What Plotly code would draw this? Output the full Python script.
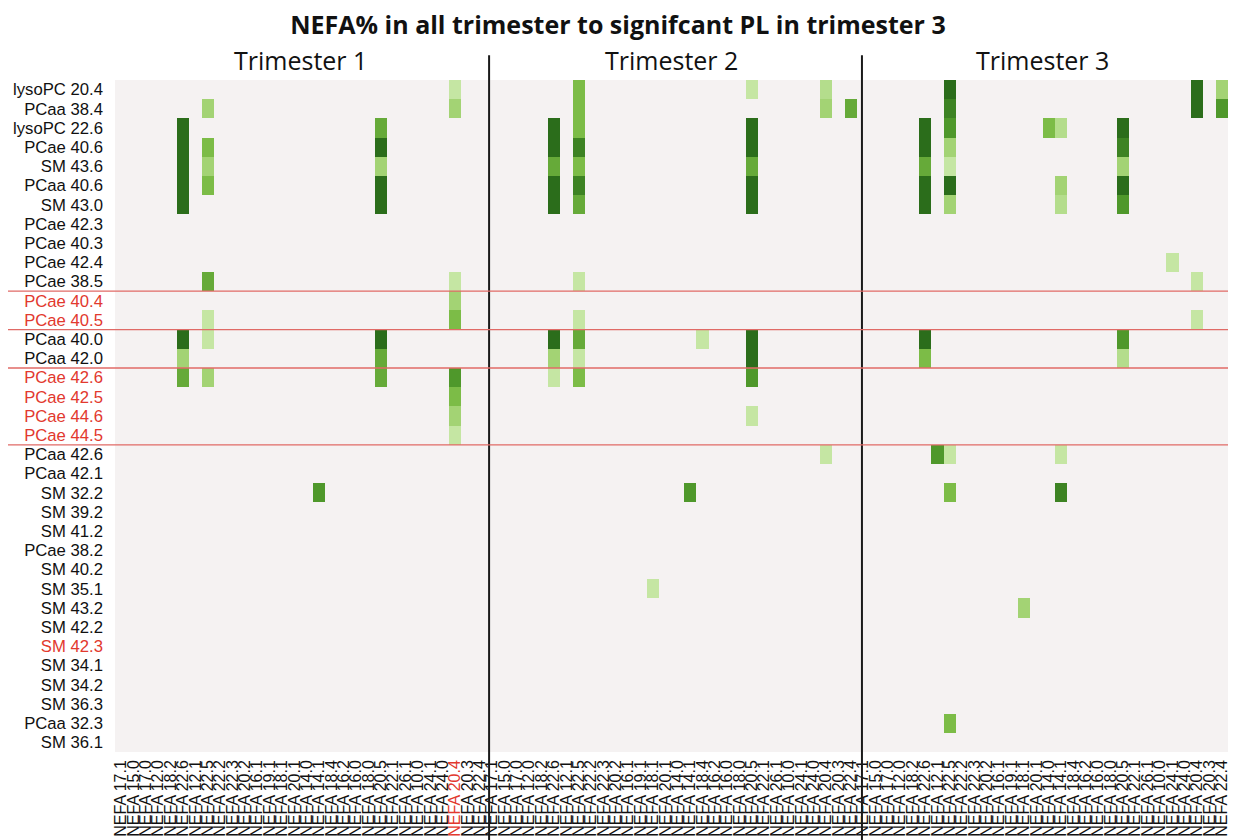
import numpy as np
import plotly.graph_objects as go

# ---------------- data ----------------
pl_labels = [
    "lysoPC 20.4", "PCaa 38.4", "lysoPC 22.6", "PCae 40.6", "SM 43.6", "PCaa 40.6",
    "SM 43.0", "PCae 42.3", "PCae 40.3", "PCae 42.4", "PCae 38.5", "PCae 40.4",
    "PCae 40.5", "PCaa 40.0", "PCaa 42.0", "PCae 42.6", "PCae 42.5", "PCae 44.6",
    "PCae 44.5", "PCaa 42.6", "PCaa 42.1", "SM 32.2", "SM 39.2", "SM 41.2",
    "PCae 38.2", "SM 40.2", "SM 35.1", "SM 43.2", "SM 42.2", "SM 42.3",
    "SM 34.1", "SM 34.2", "SM 36.3", "PCaa 32.3", "SM 36.1",
]
red_pl = ["PCae 40.4", "PCae 40.5", "PCae 42.6", "PCae 42.5", "PCae 44.6",
          "PCae 44.5", "SM 42.3"]

nefa_labels = [
    "NEFA 17.1", "NEFA 15.0", "NEFA 17.0", "NEFA 12.0", "NEFA 18.2", "NEFA 22.6",
    "NEFA 12.1", "NEFA 22.5", "NEFA 22.2", "NEFA 22.3", "NEFA 20.2", "NEFA 16.1",
    "NEFA 19.1", "NEFA 18.1", "NEFA 20.1", "NEFA 14.0", "NEFA 14.1", "NEFA 18.4",
    "NEFA 16.2", "NEFA 16.0", "NEFA 18.0", "NEFA 20.5", "NEFA 22.1", "NEFA 26.1",
    "NEFA 10.0", "NEFA 24.1", "NEFA 24.0", "NEFA 20.4", "NEFA 20.3", "NEFA 22.4",
]
red_nefa_t1 = "NEFA 20.4"
trimesters = ["Trimester 1", "Trimester 2", "Trimester 3"]

# sparse significant cells: PL row, NEFA column, strength level (1 light .. 5 dark)
t1_pl = ["lysoPC 20.4", "PCaa 38.4", "PCaa 38.4",
         "lysoPC 22.6", "lysoPC 22.6",
         "PCae 40.6", "PCae 40.6", "PCae 40.6",
         "SM 43.6", "SM 43.6", "SM 43.6",
         "PCaa 40.6", "PCaa 40.6", "PCaa 40.6",
         "SM 43.0", "SM 43.0",
         "PCae 38.5", "PCae 38.5", "PCae 40.4", "PCae 40.5", "PCae 40.5",
         "PCaa 40.0", "PCaa 40.0", "PCaa 40.0",
         "PCaa 42.0", "PCaa 42.0",
         "PCae 42.6", "PCae 42.6", "PCae 42.6", "PCae 42.6",
         "PCae 42.5", "PCae 44.6", "PCae 44.5", "SM 32.2"]
t1_nefa = ["NEFA 20.4", "NEFA 22.5", "NEFA 20.4",
           "NEFA 22.6", "NEFA 20.5",
           "NEFA 22.6", "NEFA 22.5", "NEFA 20.5",
           "NEFA 22.6", "NEFA 22.5", "NEFA 20.5",
           "NEFA 22.6", "NEFA 22.5", "NEFA 20.5",
           "NEFA 22.6", "NEFA 20.5",
           "NEFA 22.5", "NEFA 20.4", "NEFA 20.4", "NEFA 22.5", "NEFA 20.4",
           "NEFA 22.6", "NEFA 22.5", "NEFA 20.5",
           "NEFA 22.6", "NEFA 20.5",
           "NEFA 22.6", "NEFA 22.5", "NEFA 20.5", "NEFA 20.4",
           "NEFA 20.4", "NEFA 20.4", "NEFA 20.4", "NEFA 14.1"]
t1_val = [1, 2, 2,
          5, 3.5,
          5, 3, 5,
          5, 2, 2,
          5, 3, 5,
          5, 5,
          3.5, 1, 2, 1, 3,
          5, 1, 5,
          2, 3.5,
          3.5, 2, 3.5, 4,
          3, 2, 1, 4]

t2_pl = ["lysoPC 20.4", "lysoPC 20.4", "lysoPC 20.4",
         "PCaa 38.4", "PCaa 38.4", "PCaa 38.4",
         "lysoPC 22.6", "lysoPC 22.6", "lysoPC 22.6",
         "PCae 40.6", "PCae 40.6", "PCae 40.6",
         "SM 43.6", "SM 43.6", "SM 43.6",
         "PCaa 40.6", "PCaa 40.6", "PCaa 40.6",
         "SM 43.0", "SM 43.0", "SM 43.0",
         "PCae 38.5", "PCae 40.5",
         "PCaa 40.0", "PCaa 40.0", "PCaa 40.0", "PCaa 40.0",
         "PCaa 42.0", "PCaa 42.0", "PCaa 42.0",
         "PCae 42.6", "PCae 42.6", "PCae 42.6",
         "PCae 44.6", "PCaa 42.6", "SM 32.2", "SM 35.1"]
t2_nefa = ["NEFA 22.5", "NEFA 20.5", "NEFA 20.4",
           "NEFA 22.5", "NEFA 20.4", "NEFA 22.4",
           "NEFA 22.6", "NEFA 22.5", "NEFA 20.5",
           "NEFA 22.6", "NEFA 22.5", "NEFA 20.5",
           "NEFA 22.6", "NEFA 22.5", "NEFA 20.5",
           "NEFA 22.6", "NEFA 22.5", "NEFA 20.5",
           "NEFA 22.6", "NEFA 22.5", "NEFA 20.5",
           "NEFA 22.5", "NEFA 22.5",
           "NEFA 22.6", "NEFA 22.5", "NEFA 18.4", "NEFA 20.5",
           "NEFA 22.6", "NEFA 22.5", "NEFA 20.5",
           "NEFA 22.6", "NEFA 22.5", "NEFA 20.5",
           "NEFA 20.5", "NEFA 20.4", "NEFA 14.1", "NEFA 18.1"]
t2_val = [3, 1, 1.5,
          3, 2, 3.5,
          5, 3, 5,
          5, 4.5, 5,
          3.5, 3, 3.5,
          5, 4.5, 5,
          5, 3.5, 5,
          1, 1,
          5, 3.5, 1, 5,
          2, 1, 5,
          1, 3, 4,
          1, 1, 4, 1]

t3_pl = ["lysoPC 20.4", "lysoPC 20.4", "lysoPC 20.4",
         "PCaa 38.4", "PCaa 38.4", "PCaa 38.4",
         "lysoPC 22.6", "lysoPC 22.6", "lysoPC 22.6", "lysoPC 22.6", "lysoPC 22.6",
         "PCae 40.6", "PCae 40.6", "PCae 40.6",
         "SM 43.6", "SM 43.6", "SM 43.6",
         "PCaa 40.6", "PCaa 40.6", "PCaa 40.6", "PCaa 40.6",
         "SM 43.0", "SM 43.0", "SM 43.0", "SM 43.0",
         "PCae 42.4", "PCae 38.5", "PCae 40.5",
         "PCaa 40.0", "PCaa 40.0", "PCaa 42.0", "PCaa 42.0",
         "PCaa 42.6", "PCaa 42.6", "PCaa 42.6",
         "SM 32.2", "SM 32.2", "SM 43.2", "PCaa 32.3"]
t3_nefa = ["NEFA 22.5", "NEFA 20.4", "NEFA 22.4",
           "NEFA 22.5", "NEFA 20.4", "NEFA 22.4",
           "NEFA 22.6", "NEFA 22.5", "NEFA 14.0", "NEFA 14.1", "NEFA 20.5",
           "NEFA 22.6", "NEFA 22.5", "NEFA 20.5",
           "NEFA 22.6", "NEFA 22.5", "NEFA 20.5",
           "NEFA 22.6", "NEFA 22.5", "NEFA 14.1", "NEFA 20.5",
           "NEFA 22.6", "NEFA 22.5", "NEFA 14.1", "NEFA 20.5",
           "NEFA 24.1", "NEFA 20.4", "NEFA 20.4",
           "NEFA 22.6", "NEFA 20.5", "NEFA 22.6", "NEFA 20.5",
           "NEFA 12.1", "NEFA 22.5", "NEFA 14.1",
           "NEFA 22.5", "NEFA 14.1", "NEFA 18.1", "NEFA 22.5"]
t3_val = [5, 5, 2,
          4.5, 5, 4,
          5, 4, 3, 1.5, 5,
          5, 2, 4.5,
          3.5, 1, 2,
          5, 5, 2, 5,
          5, 2, 1.5, 4,
          1, 1, 1,
          5, 4, 3, 1.5,
          4, 1, 1,
          3, 4.5, 2, 3]

# ---------------- build grid ----------------
n_rows, n_cols = len(pl_labels), len(nefa_labels)
z = np.zeros((n_rows, n_cols * 3))
for p, (rows, cols, vals) in enumerate([(t1_pl, t1_nefa, t1_val),
                                         (t2_pl, t2_nefa, t2_val),
                                         (t3_pl, t3_nefa, t3_val)]):
    for r, c, v in zip(rows, cols, vals):
        z[pl_labels.index(r), p * n_cols + nefa_labels.index(c)] = v

RED = "#e2392e"
colorscale = [
    [0.0, "#f5f2f2"],
    [0.2, "#c5e6a3"],
    [0.4, "#a3d374"],
    [0.6, "#7cbc47"],
    [0.8, "#4f982b"],
    [1.0, "#2b6d1b"],
]

x_idx = list(range(n_cols * 3))
y_idx = list(range(n_rows))
x_text = []
for p in range(3):
    for lab in nefa_labels:
        if p == 0 and lab == red_nefa_t1:
            x_text.append(f"<span style='color:{RED}'>{lab}</span>")
        else:
            x_text.append(lab)
y_text = [f"<span style='color:{RED}'>{l}</span>" if l in red_pl else l for l in pl_labels]

fig = go.Figure(go.Heatmap(
    z=z, x=x_idx, y=y_idx, colorscale=colorscale, zmin=0, zmax=5,
    showscale=False, xgap=0, ygap=0, hoverongaps=False,
))

# panel dividers (black) and group separators (red)
divider_x = [n_cols - 0.25, 2 * n_cols - 0.1]
shapes = []
for dx in divider_x:
    shapes.append(dict(type="line", xref="x", yref="paper", x0=dx, x1=dx,
                       y0=-0.14, y1=1.037, line=dict(color="#1a1a1a", width=2),
                       layer="above"))
sep_rows = [10.5, 12.5, 14.5, 18.5]
for sy in sep_rows:
    shapes.append(dict(type="line", xref="paper", yref="y", x0=-0.11, x1=1.01,
                       y0=sy, y1=sy, line=dict(color="#e06a66", width=1.3),
                       layer="above"))

annotations = []
for p, t in enumerate(trimesters):
    annotations.append(dict(text=t, x=p * n_cols + (n_cols - 1) / 2, xref="x",
                            y=1.03, yref="paper", yanchor="middle", showarrow=False,
                            font=dict(family="Open Sans", size=25, color="#111")))

fig.update_layout(
    template="none",
    width=1236, height=840,
    margin=dict(l=107, r=16, t=72, b=96, pad=0),
    paper_bgcolor="white", plot_bgcolor="white",
    title=dict(text="<b>NEFA% in all trimester to signifcant PL in trimester 3</b>",
               x=0.5 - 8 / 1236, xref="container", xanchor="center",
               y=1 - 17 / 840, yref="container", yanchor="middle",
               font=dict(family="Open Sans", size=25, color="#111")),
    shapes=shapes,
    annotations=annotations,
    xaxis=dict(range=[-0.5, n_cols * 3 - 0.5], tickmode="array", tickvals=x_idx,
               ticktext=x_text, tickangle=-90, ticks="", showgrid=False,
               zeroline=False, showline=False, automargin=False,
               tickfont=dict(family="Liberation Sans", size=16, color="#111"),
               ticklabelstandoff=4),
    yaxis=dict(range=[n_rows - 0.5, -0.5], tickmode="array", tickvals=y_idx,
               ticktext=y_text, ticks="", showgrid=False, zeroline=False,
               showline=False, automargin=False,
               tickfont=dict(family="Liberation Sans", size=16.7, color="#111"),
               ticklabelstandoff=11),
)

fig.write_html("out.html")
